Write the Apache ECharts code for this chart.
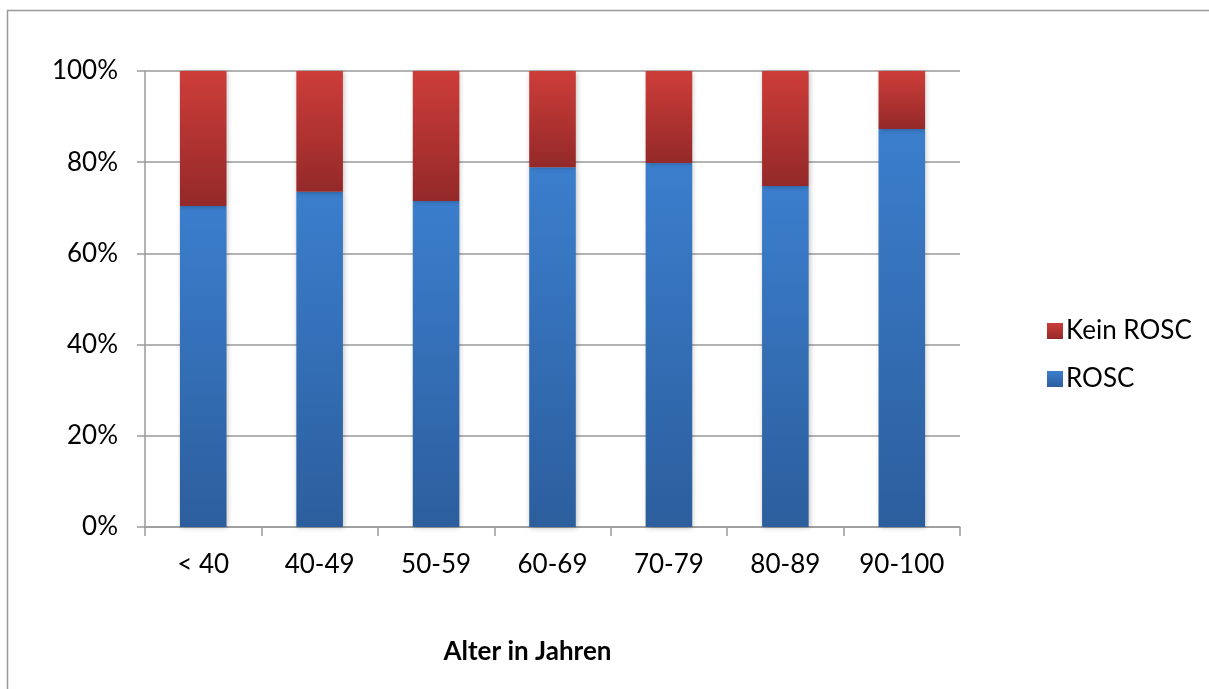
<!DOCTYPE html>
<html>
<head>
<meta charset="utf-8">
<script src="https://cdn.jsdelivr.net/npm/echarts@6/dist/echarts.min.js"></script>
<style>
  html, body { margin: 0; padding: 0; background: #fff; }
  #chart { width: 1209px; height: 689px; }
</style>
</head>
<body>
<div id="chart"></div>
<script>
// Age groups and share of patients with / without return of spontaneous circulation (%)
const categories = ['< 40', '40-49', '50-59', '60-69', '70-79', '80-89', '90-100'];
const roscValues = [70.4, 73.5, 71.5, 78.9, 79.8, 74.8, 87.3];
const keinRoscValues = [29.6, 26.5, 28.5, 21.1, 20.2, 25.2, 12.7];
const yTicks = [0, 20, 40, 60, 80, 100];

const FONT = 'Lato, "Open Sans", "Liberation Sans", sans-serif';

function vGrad(top, bottom) {
  return new echarts.graphic.LinearGradient(0, 0, 0, 1, [
    { offset: 0, color: top },
    { offset: 1, color: bottom }
  ]);
}

const chart = echarts.init(document.getElementById('chart'), null, { renderer: 'canvas' });

chart.setOption({
  animation: false,
  backgroundColor: '#ffffff',
  graphic: [
    {
      type: 'rect',
      shape: { x: 7.5, y: 10.5, width: 1300, height: 800 },
      style: { fill: 'none', stroke: '#999999', lineWidth: 1.5 },
      silent: true
    }
  ],
  grid: { left: 145, right: 249, top: 71, bottom: 162, containLabel: false },
  legend: {
    orient: 'vertical',
    left: 1042,
    top: 313,
    itemWidth: 16,
    itemHeight: 16,
    itemGap: 22,
    icon: 'rect',
    data: ['Kein ROSC', 'ROSC'],
    textStyle: { fontFamily: FONT, fontSize: 26, color: '#000', padding: [0, 0, 0, -2] }
  },
  xAxis: {
    type: 'category',
    data: categories,
    name: 'Alter in Jahren',
    nameLocation: 'middle',
    nameGap: 112,
    nameTextStyle: {
      fontFamily: FONT, fontSize: 26, fontWeight: 'bold', color: '#000',
      padding: [0, 50, 0, 0]
    },
    axisLine: { lineStyle: { color: '#9a9a9a', width: 1.5 } },
    axisTick: { show: true, length: 9, alignWithLabel: false, lineStyle: { color: '#9a9a9a', width: 1.5 } },
    axisLabel: { fontFamily: FONT, fontSize: 26, color: '#000', margin: 25 }
  },
  yAxis: {
    type: 'value',
    min: 0,
    max: 100,
    interval: 20,
    axisLine: { show: true, lineStyle: { color: '#9a9a9a', width: 1.5 } },
    axisTick: { show: true, length: 8, inside: false, lineStyle: { color: '#9a9a9a', width: 1.5 } },
    splitLine: { show: true, lineStyle: { color: '#9a9a9a', width: 1.5 } },
    axisLabel: {
      fontFamily: FONT, fontSize: 26, color: '#000', margin: 27,
      formatter: v => (yTicks.includes(v) ? v + '%' : '')
    }
  },
  series: [
    {
      name: 'ROSC',
      type: 'bar',
      stack: 'total',
      barWidth: '40%',
      data: roscValues,
      itemStyle: {
        color: vGrad('#3b7ecd', '#2c5e9d'),
        shadowColor: 'rgba(0,0,0,0.25)',
        shadowBlur: 5,
        shadowOffsetX: 1,
        shadowOffsetY: 1
      }
    },
    {
      name: 'Kein ROSC',
      type: 'bar',
      stack: 'total',
      barWidth: '40%',
      data: keinRoscValues,
      itemStyle: {
        color: vGrad('#cd3d39', '#942929'),
        shadowColor: 'rgba(0,0,0,0.25)',
        shadowBlur: 5,
        shadowOffsetX: 1,
        shadowOffsetY: 1
      }
    }
  ]
});
</script>
</body>
</html>
